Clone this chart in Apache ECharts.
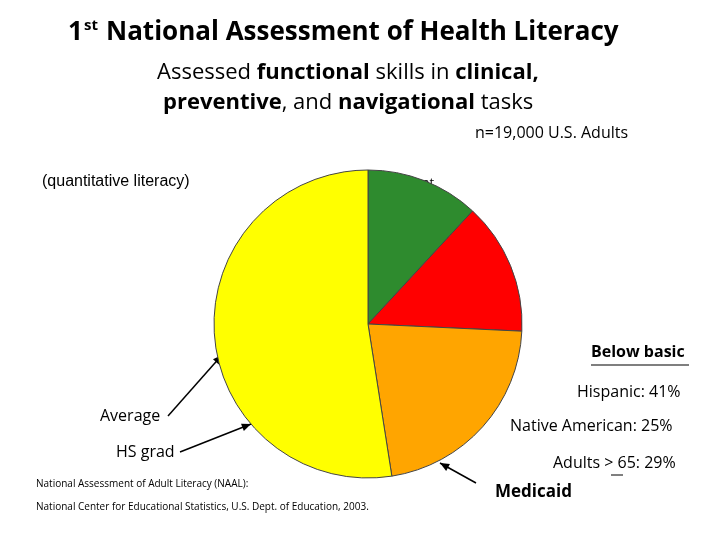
<!DOCTYPE html>
<html>
<head>
<meta charset="utf-8">
<script src="https://cdn.jsdelivr.net/npm/echarts@6/dist/echarts.min.js"></script>
<style>html,body{margin:0;padding:0;background:#fff}#chart{width:720px;height:540px}</style>
</head>
<body>
<div id="chart"></div>
<script>
const categories = ['Proficient', 'Below Basic', 'Basic', 'Intermediate']
const values = [12, 14, 22, 53]
const colors = ['#2e8b2e', '#ff0000', '#ffa500', '#ffff00']

const font = 'Open Sans, sans-serif'
function txt(x, y, text, size, opts) {
  return {
    type: 'text', left: x, top: y,
    style: Object.assign({ text: text, font: (opts && opts.weight || 'normal') + ' ' + size + 'px ' + font, fill: '#000' }, opts && opts.style)
  }
}
function arrow(x1, y1, x2, y2) {
  const a = Math.atan2(y2 - y1, x2 - x1), L = 10, W = 0.4
  return [
    { type: 'line', shape: { x1: x1, y1: y1, x2: x2, y2: y2 }, style: { stroke: '#000', lineWidth: 1.5 } },
    { type: 'polygon', shape: { points: [[x2, y2],
      [x2 - L * Math.cos(a - W), y2 - L * Math.sin(a - W)],
      [x2 - L * Math.cos(a + W), y2 - L * Math.sin(a + W)]] }, style: { fill: '#000' } }
  ]
}

const chart = echarts.init(document.getElementById('chart'))
chart.setOption({
  animation: false,
  series: [{
    type: 'pie',
    center: [368, 324],
    radius: 154,
    startAngle: 90,
    clockwise: true,
    label: { show: false },
    itemStyle: { borderColor: '#444', borderWidth: 1 },
    data: categories.map((c, i) => ({ name: c, value: values[i], itemStyle: { color: colors[i] } }))
  }],
  graphic: [
    txt(68, 20, '1', 26, { weight: 'bold' }),
    txt(84, 18, 'st', 15, { weight: 'bold' }),
    txt(106, 20, 'National Assessment of Health Literacy', 26, { weight: 'bold' }),
    { type: 'text', left: 157, top: 62, style: {
      text: 'Assessed {b|functional} skills in {b|clinical,}', font: '22px ' + font, fill: '#000',
      rich: { b: { font: 'bold 22px ' + font } } } },
    { type: 'text', left: 163, top: 92, style: {
      text: '{b|preventive}, and {b|navigational} tasks', font: '22px ' + font, fill: '#000',
      rich: { b: { font: 'bold 22px ' + font } } } },
    txt(475, 125, 'n=19,000 U.S. Adults', 16),
    txt(42, 174, '(quantitative literacy)', 16, { style: { font: '16px Liberation Sans, Arial' } }),
    txt(376, 177, 'Proficient', 13),
    txt(380, 203, '12%\n(13%)', 13, { style: { lineHeight: 17 } }),
    txt(446, 230, 'Below\nBasic', 13, { style: { lineHeight: 18 } }),
    txt(459, 269, '  14%\n(22%)', 15, { style: { lineHeight: 21 } }),
    txt(248, 243, 'Intermediate', 15),
    txt(281, 266, '53%\n(33%)', 15, { style: { lineHeight: 22 } }),
    txt(392, 322, 'Basic', 17),
    txt(394, 348, '22%\n(33%)', 15, { style: { lineHeight: 21 } }),
    txt(100, 408, 'Average', 16),
    txt(116, 444, 'HS grad', 16),
    txt(36, 479, 'National Assessment of Adult Literacy (NAAL):', 10),
    txt(36, 502, 'National Center for Educational Statistics, U.S. Dept. of Education, 2003.', 10),
    txt(591, 344, 'Below basic', 16, { weight: 'bold' }),
    { type: 'line', shape: { x1: 591, y1: 365, x2: 689, y2: 365 }, style: { stroke: '#000', lineWidth: 1.2 } },
    txt(577, 384, 'Hispanic: 41%', 16),
    txt(510, 418, 'Native American: 25%', 16),
    txt(553, 455, 'Adults > 65: 29%', 16),
    { type: 'line', shape: { x1: 611, y1: 475, x2: 623, y2: 475 }, style: { stroke: '#000', lineWidth: 1 } },
    txt(495, 484, 'Medicaid', 17, { weight: 'bold' }),
    ...arrow(168, 416, 222, 355),
    ...arrow(180, 452, 251, 424),
    ...arrow(476, 483, 440, 463)
  ]
})
</script>
</body>
</html>
